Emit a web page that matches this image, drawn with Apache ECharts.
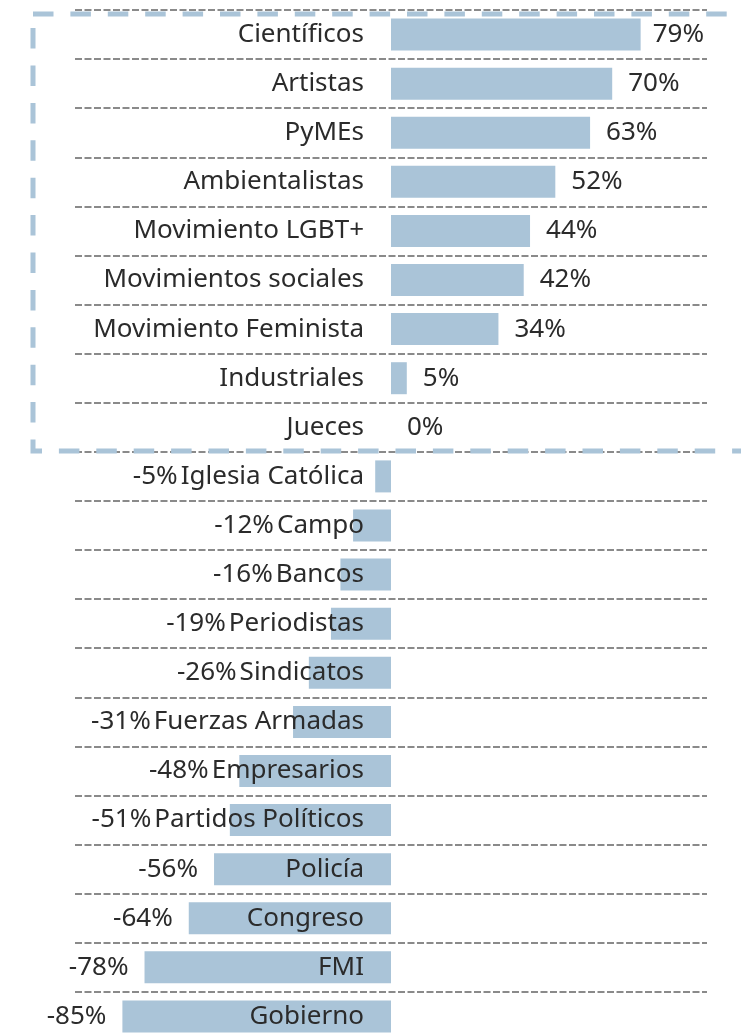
<!DOCTYPE html>
<html>
<head>
<meta charset="utf-8">
<script src="https://cdn.jsdelivr.net/npm/echarts@6/dist/echarts.min.js"></script>
<style>
  html, body { margin: 0; padding: 0; background: #fff; }
  #chart { width: 741px; height: 1036px; }
</style>
</head>
<body>
<div id="chart"></div>
<script>
var categories = [
  'Científicos', 'Artistas', 'PyMEs', 'Ambientalistas', 'Movimiento LGBT+',
  'Movimientos sociales', 'Movimiento Feminista', 'Industriales', 'Jueces',
  'Iglesia Católica', 'Campo', 'Bancos', 'Periodistas', 'Sindicatos',
  'Fuerzas Armadas', 'Empresarios', 'Partidos Políticos', 'Policía',
  'Congreso', 'FMI', 'Gobierno'
]
var values = [79, 70, 63, 52, 44, 42, 34, 5, 0, -5, -12, -16, -19, -26, -31, -48, -51, -56, -64, -78, -85]

var FONT = '"Noto Sans", sans-serif'
var FONT_SIZE = 26
var TEXT = '#2b2b2b'
var BLUE = '#aac4d8'
var LABEL_MARGIN = 27
var GRID_LEFT = 75
var GRID_RIGHT = 34

var chart = echarts.init(document.getElementById('chart'))

// measure text like the chart draws it
var ctx = document.createElement('canvas').getContext('2d')
ctx.font = FONT_SIZE + 'px ' + FONT
function textWidth(s) {
  return ctx.measureText(s).width
}

function buildData() {
  var zeroX = chart.convertToPixel({ xAxisIndex: 0 }, 0)
  var rightLimit = 704
  return values.map(function(v, i) {
    var x = chart.convertToPixel({ xAxisIndex: 0 }, v)
    var label = textWidth(v + '%')
    var dist = 16
    if (v >= 0) {
      // keep the value label inside the plot
      if (x + dist + label > rightLimit) dist = Math.max(5, rightLimit - x - label)
      return { value: v, label: { position: 'right', distance: dist }}
    }
    // negative: move left of the category name when it overlaps the bar
    var catStart = zeroX - LABEL_MARGIN - textWidth(categories[i])
    var labelRight = Math.min(x - dist, catStart - 3)
    return { value: v, label: { position: 'left', distance: x - labelRight }}
  })
}

chart.setOption({
  animation: false,
  grid: {
    left: GRID_LEFT,
    right: GRID_RIGHT,
    top: 10,
    bottom: -5,
    containLabel: false,
    outerBoundsMode: 'none'
  },
  xAxis: {
    type: 'value',
    min: -100,
    max: 100,
    axisLabel: { show: false },
    axisLine: { show: false },
    axisTick: { show: false },
    splitLine: { show: false }
  },
  yAxis: {
    type: 'category',
    data: categories,
    inverse: true,
    position: 'left',
    axisLine: { show: false },
    axisTick: { show: false },
    axisLabel: {
      interval: 0,
      margin: LABEL_MARGIN,
      color: TEXT,
      fontFamily: FONT,
      fontSize: FONT_SIZE
    },
    splitLine: {
      show: true,
      interval: 0,
      lineStyle: {
        color: '#8a8a8a',
        width: 1.8,
        type: [7, 2.5]
      }
    },
    z: 5
  },
  graphic: [{
    // dashed box around the positive group
    type: 'rect',
    z: 100,
    shape: { x: 33, y: 14, width: 721, height: 437 },
    style: {
      fill: 'none',
      stroke: BLUE,
      lineWidth: 5,
      lineDash: [20.5, 16.9]
    }
  }],
  series: [{
    type: 'bar',
    data: values,
    barWidth: 32,
    z: 2,
    itemStyle: { color: BLUE },
    label: {
      show: true,
      color: TEXT,
      fontFamily: FONT,
      fontSize: FONT_SIZE,
      formatter: function(p) {
        return p.value + '%'
      }
    }
  }]
})

// move the category names to the zero line
var zero = chart.convertToPixel({ xAxisIndex: 0 }, 0)
chart.setOption({
  yAxis: { offset: -(zero - GRID_LEFT) },
  series: [{ data: buildData() }]
})
</script>
</body>
</html>
